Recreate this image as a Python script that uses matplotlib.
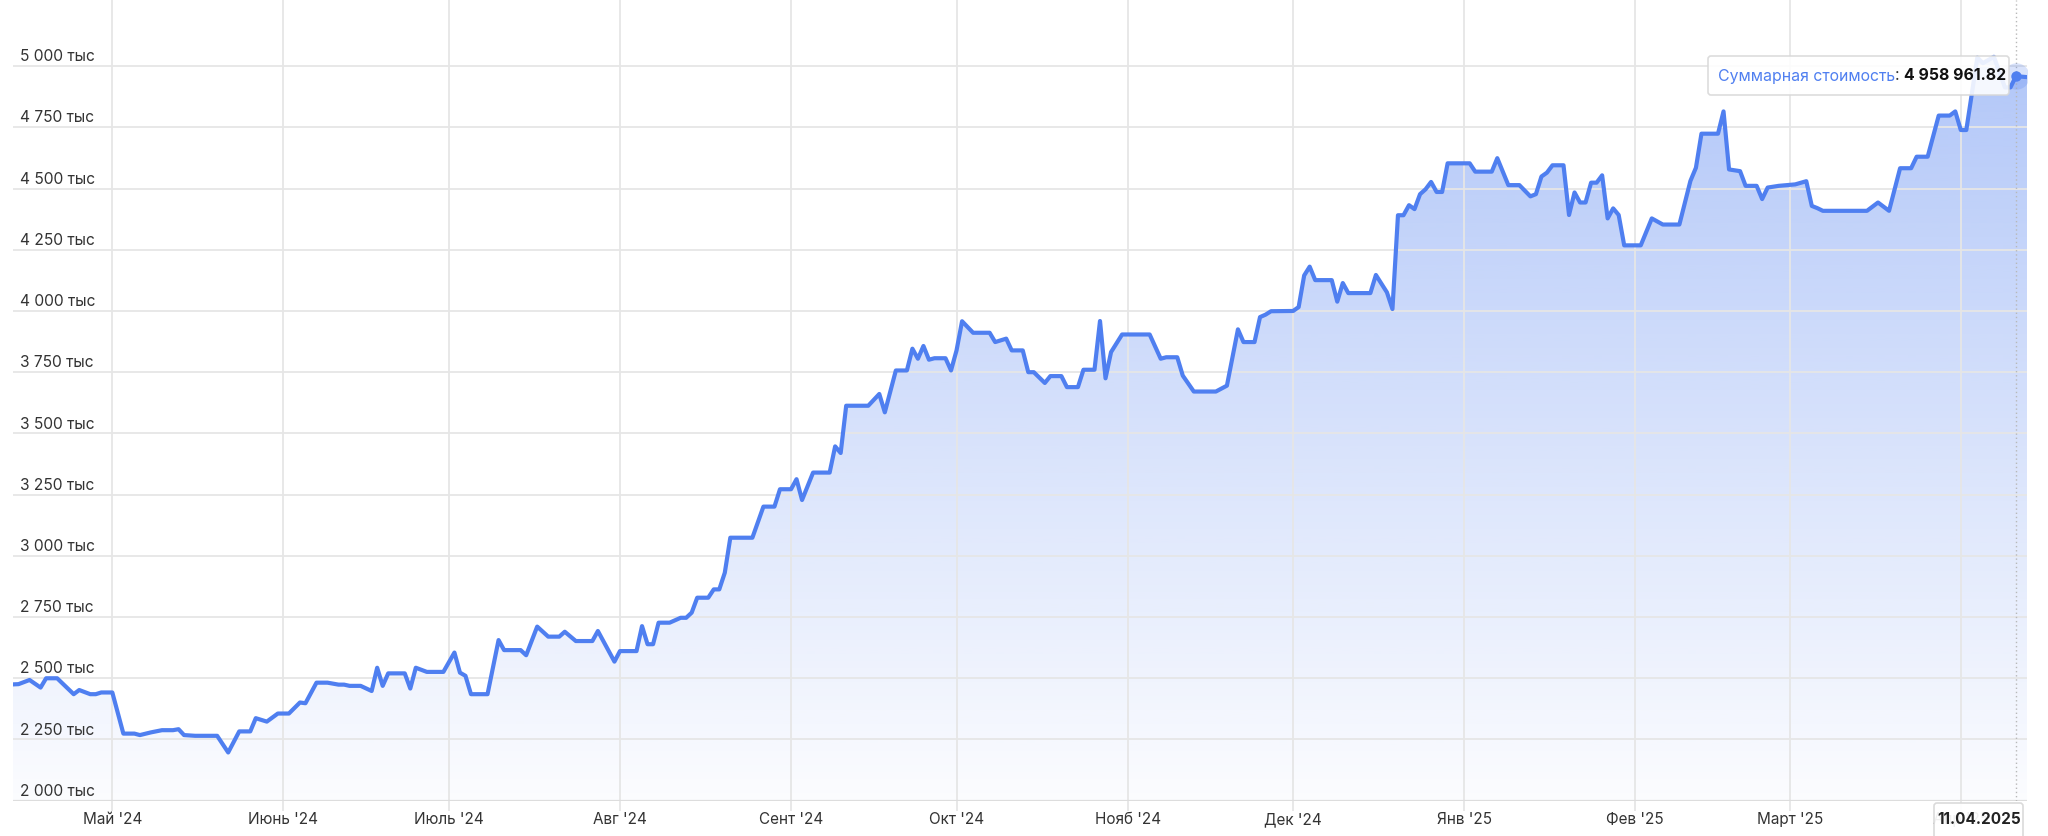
import matplotlib
matplotlib.use("Agg")
import matplotlib.pyplot as plt
import matplotlib.dates as mdates
import matplotlib.transforms as mtransforms
from matplotlib.patches import FancyBboxPatch
import numpy as np
import pandas as pd

# Суммарная стоимость портфеля, тыс. руб.
dates = [
    "2024-04-13", "2024-04-14", "2024-04-16", "2024-04-18", "2024-04-19", "2024-04-21",
    "2024-04-24", "2024-04-25", "2024-04-27", "2024-04-28", "2024-04-29", "2024-05-01",
    "2024-05-03", "2024-05-05", "2024-05-06", "2024-05-08", "2024-05-10", "2024-05-12",
    "2024-05-13", "2024-05-14", "2024-05-16", "2024-05-20", "2024-05-22", "2024-05-24",
    "2024-05-26", "2024-05-27", "2024-05-29", "2024-05-31", "2024-06-02", "2024-06-04",
    "2024-06-05", "2024-06-07", "2024-06-09", "2024-06-11", "2024-06-12", "2024-06-13",
    "2024-06-15", "2024-06-17", "2024-06-18", "2024-06-19", "2024-06-20", "2024-06-23",
    "2024-06-24", "2024-06-25", "2024-06-27", "2024-06-30", "2024-07-02", "2024-07-03",
    "2024-07-04", "2024-07-05", "2024-07-08", "2024-07-10", "2024-07-11", "2024-07-14",
    "2024-07-15", "2024-07-17", "2024-07-19", "2024-07-21", "2024-07-22", "2024-07-24",
    "2024-07-27", "2024-07-28", "2024-07-31", "2024-08-01", "2024-08-04", "2024-08-05",
    "2024-08-06", "2024-08-07", "2024-08-08", "2024-08-10", "2024-08-12", "2024-08-13",
    "2024-08-14", "2024-08-15", "2024-08-17", "2024-08-18", "2024-08-19", "2024-08-20",
    "2024-08-21", "2024-08-25", "2024-08-27", "2024-08-29", "2024-08-30", "2024-09-01",
    "2024-09-02", "2024-09-03", "2024-09-05", "2024-09-08", "2024-09-09", "2024-09-10",
    "2024-09-11", "2024-09-15", "2024-09-17", "2024-09-18", "2024-09-20", "2024-09-22",
    "2024-09-23", "2024-09-24", "2024-09-25", "2024-09-26", "2024-09-27", "2024-09-29",
    "2024-09-30", "2024-10-01", "2024-10-02", "2024-10-04", "2024-10-07", "2024-10-08",
    "2024-10-10", "2024-10-11", "2024-10-13", "2024-10-14", "2024-10-15", "2024-10-17",
    "2024-10-18", "2024-10-20", "2024-10-21", "2024-10-23", "2024-10-24", "2024-10-26",
    "2024-10-27", "2024-10-28", "2024-10-29", "2024-10-31", "2024-11-05", "2024-11-07",
    "2024-11-08", "2024-11-10", "2024-11-11", "2024-11-13", "2024-11-17", "2024-11-19",
    "2024-11-21", "2024-11-22", "2024-11-24", "2024-11-25", "2024-11-26", "2024-11-27",
    "2024-12-01", "2024-12-02", "2024-12-03", "2024-12-04", "2024-12-05", "2024-12-08",
    "2024-12-09", "2024-12-10", "2024-12-11", "2024-12-15", "2024-12-16", "2024-12-18",
    "2024-12-19", "2024-12-20", "2024-12-21", "2024-12-22", "2024-12-23", "2024-12-24",
    "2024-12-25", "2024-12-26", "2024-12-27", "2024-12-28", "2024-12-29", "2025-01-02",
    "2025-01-03", "2025-01-06", "2025-01-07", "2025-01-09", "2025-01-11", "2025-01-13",
    "2025-01-14", "2025-01-15", "2025-01-16", "2025-01-17", "2025-01-19", "2025-01-20",
    "2025-01-21", "2025-01-22", "2025-01-23", "2025-01-24", "2025-01-25", "2025-01-26",
    "2025-01-27", "2025-01-28", "2025-01-29", "2025-01-30", "2025-02-02", "2025-02-04",
    "2025-02-06", "2025-02-09", "2025-02-11", "2025-02-12", "2025-02-13", "2025-02-16",
    "2025-02-17", "2025-02-18", "2025-02-20", "2025-02-21", "2025-02-23", "2025-02-24",
    "2025-02-25", "2025-02-27", "2025-03-02", "2025-03-04", "2025-03-05", "2025-03-06",
    "2025-03-07", "2025-03-15", "2025-03-17", "2025-03-19", "2025-03-21", "2025-03-23",
    "2025-03-24", "2025-03-26", "2025-03-28", "2025-03-30", "2025-03-31", "2025-04-01",
    "2025-04-02", "2025-04-04", "2025-04-05", "2025-04-07", "2025-04-09", "2025-04-10",
    "2025-04-11", "2025-04-13",
]
values = [
    2475, 2476, 2493, 2462, 2500, 2500,
    2435, 2452, 2435, 2435, 2442, 2442,
    2274, 2274, 2268, 2279, 2288, 2288,
    2292, 2268, 2265, 2265, 2197, 2283,
    2283, 2337, 2323, 2356, 2356, 2401,
    2398, 2482, 2482, 2474, 2474, 2469,
    2469, 2448, 2543, 2469, 2520, 2520,
    2458, 2543, 2526, 2526, 2605, 2523,
    2510, 2435, 2435, 2656, 2615, 2615,
    2594, 2711, 2670, 2670, 2690, 2652,
    2652, 2693, 2568, 2611, 2611, 2713,
    2639, 2639, 2727, 2727, 2747, 2747,
    2768, 2829, 2829, 2863, 2863, 2931,
    3074, 3074, 3201, 3201, 3272, 3272,
    3313, 3228, 3340, 3340, 3447, 3420,
    3613, 3613, 3661, 3586, 3757, 3757,
    3846, 3805, 3857, 3801, 3807, 3807,
    3757, 3839, 3958, 3911, 3911, 3873,
    3887, 3839, 3839, 3750, 3750, 3706,
    3734, 3734, 3689, 3689, 3760, 3760,
    3959, 3725, 3832, 3904, 3904, 3805,
    3811, 3811, 3736, 3671, 3671, 3695,
    3925, 3873, 3873, 3975, 3985, 3999,
    4000, 4016, 4145, 4181, 4126, 4126,
    4038, 4114, 4073, 4073, 4147, 4076,
    4008, 4391, 4391, 4432, 4416, 4477,
    4497, 4527, 4486, 4486, 4603, 4603,
    4569, 4569, 4624, 4514, 4514, 4468,
    4477, 4549, 4565, 4595, 4595, 4392,
    4484, 4443, 4443, 4524, 4524, 4554,
    4378, 4419, 4392, 4268, 4268, 4378,
    4353, 4353, 4531, 4585, 4724, 4724,
    4815, 4578, 4571, 4511, 4511, 4457,
    4504, 4511, 4517, 4530, 4429, 4420,
    4409, 4409, 4443, 4409, 4583, 4583,
    4630, 4630, 4798, 4798, 4815, 4739,
    4739, 5035, 5012, 5038, 4913, 4913,
    4958.96182, 4955,
]

month_ticks = ["2024-05-01", "2024-06-01", "2024-07-01", "2024-08-01", "2024-09-01",
               "2024-10-01", "2024-11-01", "2024-12-01", "2025-01-01", "2025-02-01",
               "2025-03-01", "2025-04-01"]
month_labels = ["Май '24", "Июнь '24", "Июль '24", "Авг '24", "Сент '24", "Окт '24",
                "Нояб '24", "Дек '24", "Янв '25", "Фев '25", "Март '25", "Апр '25"]

y_ticks = [2000, 2250, 2500, 2750, 3000, 3250, 3500, 3750, 4000, 4250, 4500, 4750, 5000]
y_labels = ["2 000 тыс", "2 250 тыс", "2 500 тыс", "2 750 тыс", "3 000 тыс", "3 250 тыс",
            "3 500 тыс", "3 750 тыс", "4 000 тыс", "4 250 тыс", "4 500 тыс", "4 750 тыс",
            "5 000 тыс"]

hover_date = "2025-04-11"
hover_value = 4958961.82
hover_label = "11.04.2025"
series_name = "Суммарная стоимость"

LINE = "#4f7ff0"
GRID = "#e6e6e6"
TXT = "#333333"

plt.rcParams["font.family"] = ["Inter", "DejaVu Sans"]

W, H = 2048, 836
fig = plt.figure(figsize=(W / 100, H / 100), dpi=100)
ax = fig.add_axes([13 / W, 35.3 / H, 2014 / W, 800.7 / H])

xn = mdates.date2num(pd.to_datetime(dates))
y0, y1 = 2000, 5270
ax.set_xlim(xn[0], xn[-1])
ax.set_ylim(y0, y1)

# градиентная заливка под линией
rgb = matplotlib.colors.to_rgb(LINE)
grad = np.zeros((256, 1, 4))
grad[..., :3] = rgb
grad[:, 0, 3] = np.linspace(0.02, 0.47, 256)
im = ax.imshow(grad, extent=[xn[0], xn[-1], y0, y1], origin="lower",
               aspect="auto", zorder=0.5, interpolation="bilinear")
poly = ax.fill_between(xn, values, y0, facecolor="none", edgecolor="none")
im.set_clip_path(poly.get_paths()[0], transform=ax.transData)

ax.plot(xn, values, color=LINE, lw=3.0, solid_joinstyle="round",
        solid_capstyle="round", zorder=3)

# сетка и оси
for s in ax.spines.values():
    s.set_visible(False)
ax.set_yticks(y_ticks)
ax.yaxis.grid(True, color=GRID, lw=1.3)
ax.tick_params(axis="y", length=0, labelleft=False)
ax.set_xticks(mdates.date2num(pd.to_datetime(month_ticks)))
ax.set_xticklabels(month_labels)
ax.xaxis.grid(True, color=GRID, lw=1.3)
ax.tick_params(axis="x", length=7, width=1.3, color=GRID, pad=1,
               labelsize=11, labelcolor=TXT)
ax.axhline(y0, color="#dddddd", lw=1.6, zorder=1.6)

blend = mtransforms.blended_transform_factory(ax.transAxes, ax.transData)
for v, lab in zip(y_ticks, y_labels):
    ax.annotate(lab, xy=(0, v), xycoords=blend, xytext=(5, 3.5),
                textcoords="offset points", ha="left", va="baseline",
                fontsize=11.2, color=TXT, zorder=4)

# подсказка для наведённой точки
hx = mdates.date2num(pd.Timestamp(hover_date))
hy = hover_value / 1000
ax.axvline(hx, color="#b8b8b8", lw=1, ls=(0, (1, 2)), zorder=2.7)
ax.plot([hx], [hy], "o", ms=19, color=LINE, alpha=0.22, mec="none", zorder=4)
ax.plot([hx], [hy], "o", ms=7.5, color=LINE, mec="none", zorder=5)

px = mtransforms.IdentityTransform()
fig.add_artist(FancyBboxPatch((1708, H - 95), 301, 39, transform=px,
                              boxstyle="round,pad=0,rounding_size=3",
                              fc="white", ec="#d8d8d8", lw=1.2, alpha=0.88,
                              zorder=10))
fs_tip = 11.4
t1 = fig.text(1718 / W, (H - 76) / H, series_name, color=LINE, fontsize=fs_tip,
              va="center", ha="left", zorder=11)
fig.canvas.draw()
bb = t1.get_window_extent()
t2 = fig.text(bb.x1 / W, (H - 76) / H, ": ", color=TXT, fontsize=fs_tip,
              va="center", ha="left", zorder=11)
fig.canvas.draw()
bb = t2.get_window_extent()
fig.text(bb.x1 / W, (H - 76) / H, f"{hover_value:,.2f}".replace(",", " "),
         color="#111111", fontsize=fs_tip, fontweight="bold",
         va="center", ha="left", zorder=11)

fig.add_artist(FancyBboxPatch((1934, -4), 89, 37, transform=px,
                              boxstyle="round,pad=0,rounding_size=3",
                              fc="white", ec="#d8d8d8", lw=1.2, alpha=0.93,
                              zorder=10))
fig.text(1979 / W, 16 / H, hover_label, color="#222222", fontsize=11,
         fontweight="bold", ha="center", va="center", zorder=11)

fig.savefig("out.png", dpi=100)
